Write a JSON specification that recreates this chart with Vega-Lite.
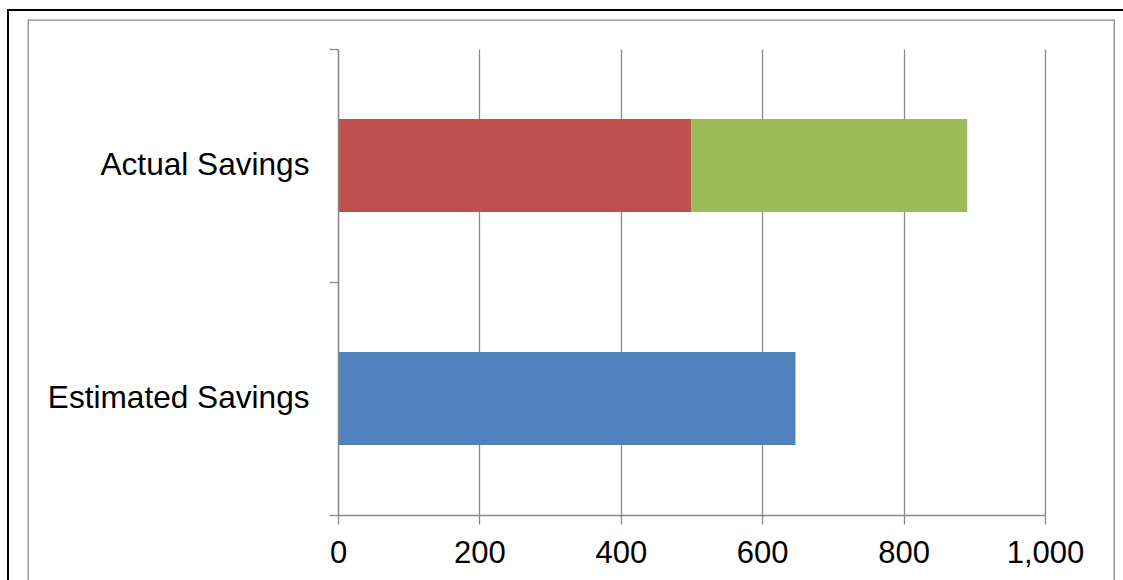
{
  "$schema": "https://vega.github.io/schema/vega-lite/v6.json",
  "width": 1086,
  "height": 561,
  "autosize": {"type": "none"},
  "padding": {"left": 28, "top": 20, "right": 9, "bottom": -1},
  "background": "white",
  "config": {
    "view": {"stroke": "#898989", "strokeWidth": 1.3},
    "font": "Liberation Sans"
  },
  "data": {
    "values": [
      {"category": "Actual Savings", "series": "Series 2", "value": 500},
      {"category": "Actual Savings", "series": "Series 3", "value": 390},
      {"category": "Estimated Savings", "series": "Series 1", "value": 647}
    ]
  },
  "layer": [
    {
      "mark": {"type": "bar", "opacity": 0},
      "encoding": {
        "y": {
          "field": "category",
          "type": "nominal",
          "scale": {"domain": ["Actual Savings", "Estimated Savings"], "range": [29, 495], "paddingInner": 0, "paddingOuter": 0},
          "axis": {"orient": "left", "offset": -310, "title": null, "tickBand": "extent", "tickSize": 9, "tickColor": "#898989", "tickWidth": 1.3, "domain": false, "labels": false, "grid": false, "zindex": 1}
        },
        "x": {
          "field": "value",
          "type": "quantitative",
          "stack": "zero",
          "scale": {"domain": [0, 1000], "range": [310, 1017], "nice": false},
          "axis": {"orient": "bottom", "offset": -66, "values": [0, 200, 400, 600, 800, 1000], "title": null, "grid": false, "domain": false, "labels": false, "ticks": true, "tickSize": -466, "tickColor": "#898989", "tickWidth": 1.3, "zindex": 0}
        },
        "order": {"field": "series", "sort": "ascending"}
      }
    },
    {
      "mark": {"type": "bar"},
      "encoding": {
        "y": {
          "field": "category",
          "type": "nominal",
          "scale": {"domain": ["Actual Savings", "Estimated Savings"], "range": [29, 495], "paddingInner": 0.6, "paddingOuter": 0.3},
          "axis": {"orient": "left", "offset": -310, "title": null, "ticks": false, "domainColor": "#898989", "domainWidth": 1.3, "labelFontSize": 31.6, "labelColor": "black", "labelPadding": 29, "labelLimit": 0, "labelFont": "Liberation Sans", "grid": false, "zindex": 1}
        },
        "x": {
          "field": "value",
          "type": "quantitative",
          "stack": "zero",
          "scale": {"domain": [0, 1000], "range": [310, 1017], "nice": false},
          "axis": {"orient": "bottom", "offset": -66, "values": [0, 200, 400, 600, 800, 1000], "format": ",d", "title": null, "grid": false, "tickSize": 9, "tickColor": "#898989", "tickWidth": 1.3, "domainColor": "#898989", "domainWidth": 1.3, "labelFontSize": 31, "labelColor": "black", "labelPadding": 14, "labelFont": "Liberation Sans", "labelFlush": false, "zindex": 1}
        },
        "color": {
          "field": "series",
          "type": "nominal",
          "scale": {"domain": ["Series 1", "Series 2", "Series 3"], "range": ["#4F81BD", "#C0504D", "#9BBB59"]},
          "legend": {"orient": "none", "legendX": -20, "legendY": -10, "padding": 800, "strokeColor": "black", "title": null, "symbolOpacity": 0, "labelExpr": "''", "encode": {"legend": {"update": {"strokeWidth": {"value": 2}}}}}
        },
        "order": {"field": "series", "sort": "ascending"}
      }
    }
  ],
  "resolve": {"scale": {"y": "independent"}, "axis": {"x": "independent", "y": "independent"}}
}
